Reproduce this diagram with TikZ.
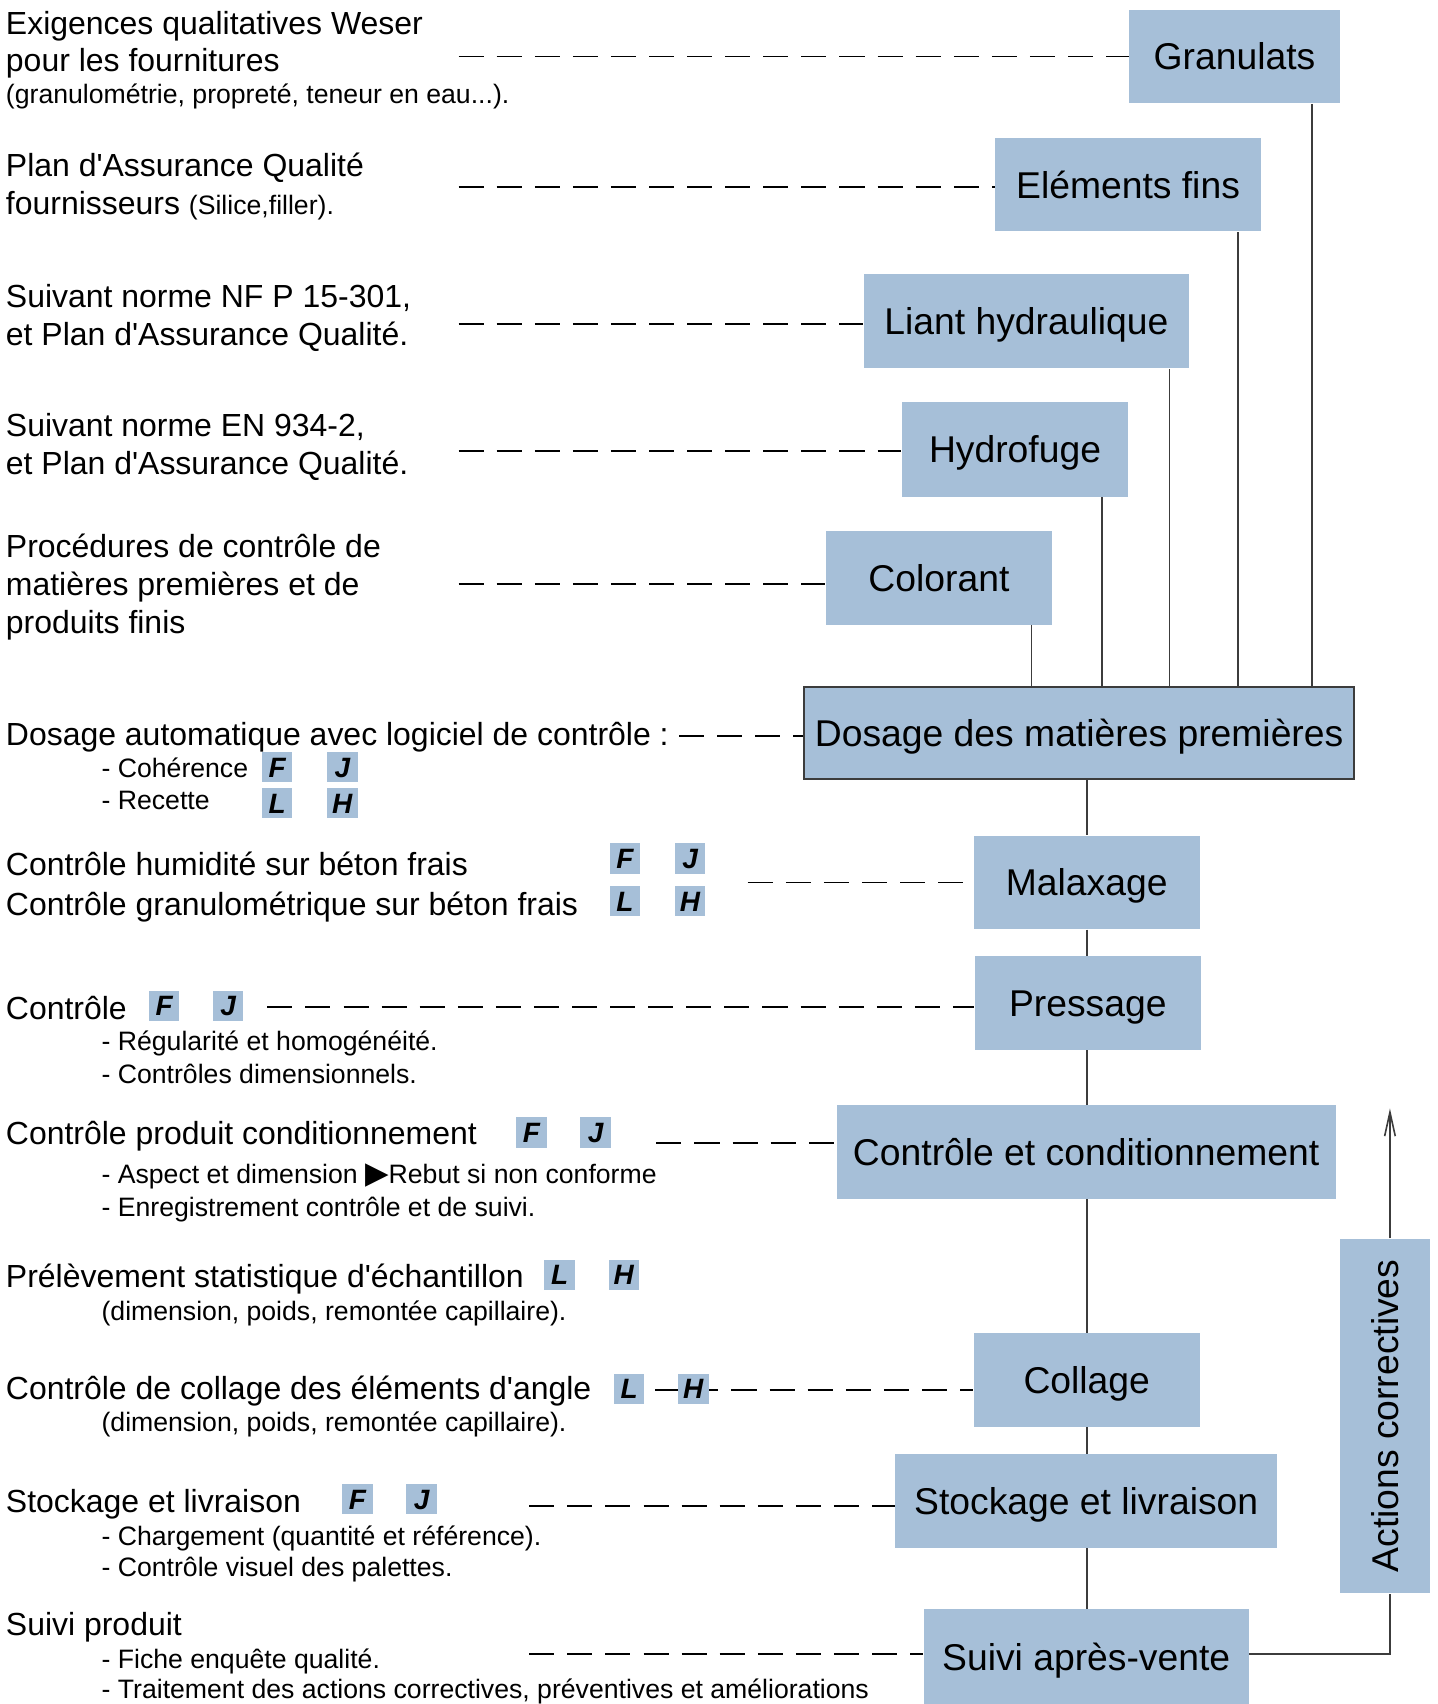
\documentclass[tikz,border=0pt]{standalone}
\usepackage{fontspec}
\setmainfont{Liberation Sans}
\newfontfamily\symfont{DejaVu Sans}
\usetikzlibrary{arrows.meta}
\definecolor{boxblue}{RGB}{166,191,216}
\definecolor{lncol}{RGB}{60,60,60}
\newdimen\px \px=0.408pt
\newcommand\aq{\textquotesingle}
\begin{document}
\begin{tikzpicture}[x=0.408pt, y=-0.408pt,
 blk/.style={fill=boxblue, inner sep=0pt, text height=10pt, text depth=0pt, font=\fontsize{14}{17}\selectfont},
 badge/.style={fill=boxblue, inner sep=0pt, minimum width=28\px, minimum height=28\px, text height=7.6pt, text depth=0pt, font=\fontsize{10.5}{12}\selectfont\bfseries\itshape},
 maintxt/.style={anchor=base west, inner sep=0pt, font=\fontsize{12}{14}\selectfont},
 subtxt/.style={anchor=base west, inner sep=0pt, font=\fontsize{10}{12}\selectfont},
 dash line/.style={draw=black, line width=0.7pt, dash pattern=on 9.4pt off 4.9pt},
 link/.style={draw=lncol, line width=0.6pt},
]
\useasboundingbox (0,0) rectangle (1323,1568);

% ---- process boxes
\node[blk, minimum width=194\px, minimum height=86\px] (gran) at (1136,52) {Granulats};
\node[blk, minimum width=244\px, minimum height=86\px] (elem) at (1038,170) {Eléments fins};
\node[blk, minimum width=299\px, minimum height=87\px] (liant) at (944.5,295.5) {Liant hydraulique};
\node[blk, minimum width=208\px, minimum height=87\px] (hydro) at (934,413.5) {Hydrofuge};
\node[blk, minimum width=208\px, minimum height=86\px] (color) at (864,532) {Colorant};
\node[blk, draw=lncol, line width=0.6pt, minimum width=506\px, minimum height=85\px] (dos) at (993,674.5) {Dosage des matières premières};
\node[blk, minimum width=208\px, minimum height=86\px] (mal) at (1000,812) {Malaxage};
\node[blk, minimum width=208\px, minimum height=86\px] (pres) at (1001,923) {Pressage};
\node[blk, minimum width=459\px, minimum height=86\px] (ctrl) at (999.5,1060) {Contrôle et conditionnement};
\node[blk, minimum width=208\px, minimum height=86\px] (col) at (1000,1270) {Collage};
\node[blk, minimum width=351\px, minimum height=86\px] (stock) at (999.5,1381) {Stockage et livraison};
\node[blk, minimum width=299\px, minimum height=87\px] (suivi) at (999.5,1524.5) {Suivi après-vente};
\node[blk, rotate=90, minimum width=326\px, minimum height=83\px] (act) at (1274.5,1303) {Actions correctives};

% ---- feeder lines
\draw[link] (gran.south -| 1207,0) -- (dos.north -| 1207,0);
\draw[link] (elem.south -| 1139,0) -- (dos.north -| 1139,0);
\draw[link] (liant.south -| 1076,0) -- (dos.north -| 1076,0);
\draw[link] (hydro.south -| 1014,0) -- (dos.north -| 1014,0);
\draw[link] (color.south -| 949,0) -- (dos.north -| 949,0);

% ---- spine
\draw[link] (dos.south -| mal.north) -- (mal.north);
\draw[link] (mal.south) -- (mal.south |- pres.north);
\draw[link] (pres.south -| mal.south) -- (ctrl.north -| mal.south);
\draw[link] (ctrl.south -| mal.south) -- (col.north);
\draw[link] (col.south) -- (col.south |- stock.north);
\draw[link] (stock.south -| col.south) -- (suivi.north -| col.south);

% ---- corrective actions loop
\coordinate (arrtip) at (1279,1020);
\draw[link] (suivi.east |- 0,1522) -| (act.west -| 1279,0);
\draw[link, -{Straight Barb[length=9pt,width=4pt]}] (act.east -| 1279,0) -- (arrtip);

% ---- dashed links
\coordinate (d1) at (422,52);
\coordinate (d2) at (422,172);
\coordinate (d3) at (422,298);
\coordinate (d4) at (422,415);
\coordinate (d5) at (422,537);
\coordinate (d6) at (625,677);
\coordinate (d7) at (688,812);
\coordinate (d8) at (246,927);
\coordinate (d9) at (604,1052);
\coordinate (d10) at (603,1279);
\coordinate (d11) at (487,1386);
\coordinate (d12) at (487,1522);
\draw[dash line] (d1) -- (gran.west |- d1);
\draw[dash line] (d2) -- (elem.west |- d2);
\draw[dash line] (d3) -- (liant.west |- d3);
\draw[dash line] (d4) -- (hydro.west |- d4);
\draw[dash line] (d5) -- (color.west |- d5);
\draw[dash line] (d6) -- (dos.west |- d6);
\draw[dash line] (d7) -- (mal.west |- d7);
\draw[dash line] (d8) -- (pres.west |- d8);
\draw[dash line] (d9) -- (ctrl.west |- d9);
\draw[dash line] (d10) -- (col.west |- d10);
\draw[dash line] (d11) -- (stock.west |- d11);
\draw[dash line] (d12) -- (suivi.west |- d12);

% ---- left texts
\node[maintxt] (t1a) at (5,32) {Exigences qualitatives Weser};
\node[maintxt] (t1b) at (5,66) {pour les fournitures};
\node[subtxt] (t1c) at (5,95) {(granulométrie, propreté, teneur en eau...).};

\node[maintxt] (t2a) at (5,162) {Plan d\aq Assurance Qualité};
\node[maintxt] (t2b) at (5,197) {fournisseurs {\fontsize{10}{12}\selectfont(Silice,filler).}};

\node[maintxt] (t3a) at (5,283) {Suivant norme NF P 15-301,};
\node[maintxt] (t3b) at (5,318) {et Plan d\aq Assurance Qualité.};

\node[maintxt] (t4a) at (5,402) {Suivant norme EN 934-2,};
\node[maintxt] (t4b) at (5,437) {et Plan d\aq Assurance Qualité.};

\node[maintxt] (t5a) at (5,513) {Procédures de contrôle de};
\node[maintxt] (t5b) at (5,548) {matières premières et de};
\node[maintxt] (t5c) at (5,583) {produits finis};

\node[maintxt] (t6a) at (5,686) {Dosage automatique avec logiciel de contrôle :};
\node[subtxt] (t6b) at (93,715) {- Cohérence};
\node[subtxt] (t6c) at (93,745) {- Recette};

\node[maintxt] (t7a) at (5,806) {Contrôle humidité sur béton frais};
\node[maintxt] (t7b) at (5,842) {Contrôle granulométrique sur béton frais};

\node[maintxt] (t8a) at (5,938) {Contrôle};
\node[subtxt] (t8b) at (93,967) {- Régularité et homogénéité.};
\node[subtxt] (t8c) at (93,997) {- Contrôles dimensionnels.};

\node[maintxt] (t9a) at (5,1053) {Contrôle produit conditionnement};
\node[subtxt] (t9b) at (93,1089) {- Aspect et dimension {\symfont\fontsize{11.5}{12}\selectfont ▶}Rebut si non conforme};
\node[subtxt] (t9c) at (93,1119) {- Enregistrement contrôle et de suivi.};

\node[maintxt] (t10a) at (5,1185) {Prélèvement statistique d\aq échantillon};
\node[subtxt] (t10b) at (93,1215) {(dimension, poids, remontée capillaire).};

\node[maintxt] (t11a) at (5,1288) {Contrôle de collage des éléments d\aq angle};
\node[subtxt] (t11b) at (93,1317) {(dimension, poids, remontée capillaire).};

\node[maintxt] (t12a) at (5,1392) {Stockage et livraison};
\node[subtxt] (t12b) at (93,1422) {- Chargement (quantité et référence).};
\node[subtxt] (t12c) at (93,1451) {- Contrôle visuel des palettes.};

\node[maintxt] (t13a) at (5,1505) {Suivi produit};
\node[subtxt] (t13b) at (93,1535) {- Fiche enquête qualité.};
\node[subtxt] (t13c) at (93,1563) {- Traitement des actions correctives, préventives et améliorations};

% ---- badges
\node[badge] (b6f) at (255,706) {F};
\node[badge] (b6j) at (315,706) {J};
\node[badge] (b6l) at (255,739) {L};
\node[badge] (b6h) at (315,739) {H};
\node[badge] (b7f) at (575,790) {F};
\node[badge] (b7j) at (635,790) {J};
\node[badge] (b7l) at (575,829) {L};
\node[badge] (b7h) at (635,829) {H};
\node[badge] (b8f) at (151,925.5) {F};
\node[badge] (b8j) at (210,925.5) {J};
\node[badge] (b9f) at (489,1042) {F};
\node[badge] (b9j) at (548,1042) {J};
\node[badge] (b10l) at (515,1173) {L};
\node[badge] (b10h) at (574,1173) {H};
\node[badge] (b11l) at (579,1278) {L};
\node[badge] (b11h) at (638,1278) {H};
\node[badge] (b12f) at (329,1379.5) {F};
\node[badge] (b12j) at (388,1379.5) {J};
\end{tikzpicture}
\end{document}
